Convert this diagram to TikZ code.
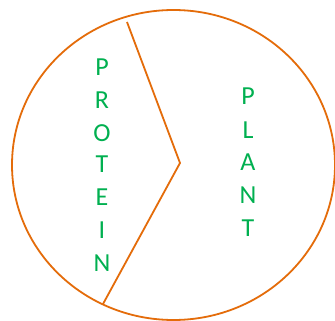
\documentclass[tikz,border=0pt]{standalone}
\usepackage{fontspec}
\setmainfont{Carlito}
\usetikzlibrary{shapes.geometric}
\definecolor{orng}{HTML}{E46C0A}
\definecolor{grn}{HTML}{00B050}
\begin{document}
\begin{tikzpicture}[x=1pt,y=-1pt,
  edge/.style={draw=orng,line width=1.8pt},
  letter/.style={text=grn,font=\fontsize{26}{26}\selectfont,inner sep=0pt,anchor=center}]
\useasboundingbox (0,0) rectangle (335,321);
\fill[white] (0,0) rectangle (335,321);
\node[edge,ellipse,minimum width=323pt,minimum height=310pt,inner sep=0pt] (pie) at (173.5,165) {};
\coordinate (top) at (127,22);
\coordinate (mid) at (180,163);
\coordinate (bot) at (103,304);
\draw[edge,line join=miter] (top) -- (mid) -- (bot);
\foreach \c/\y [count=\i] in {P/67,R/100,O/133,T/164,E/197,I/230,N/263}
  \node[letter] (prot\i) at (102,\y) {\c};
\foreach \c/\y [count=\i] in {P/96,L/130,A/162,N/195,T/228}
  \node[letter] (plant\i) at (248,\y) {\c};
\end{tikzpicture}
\end{document}
